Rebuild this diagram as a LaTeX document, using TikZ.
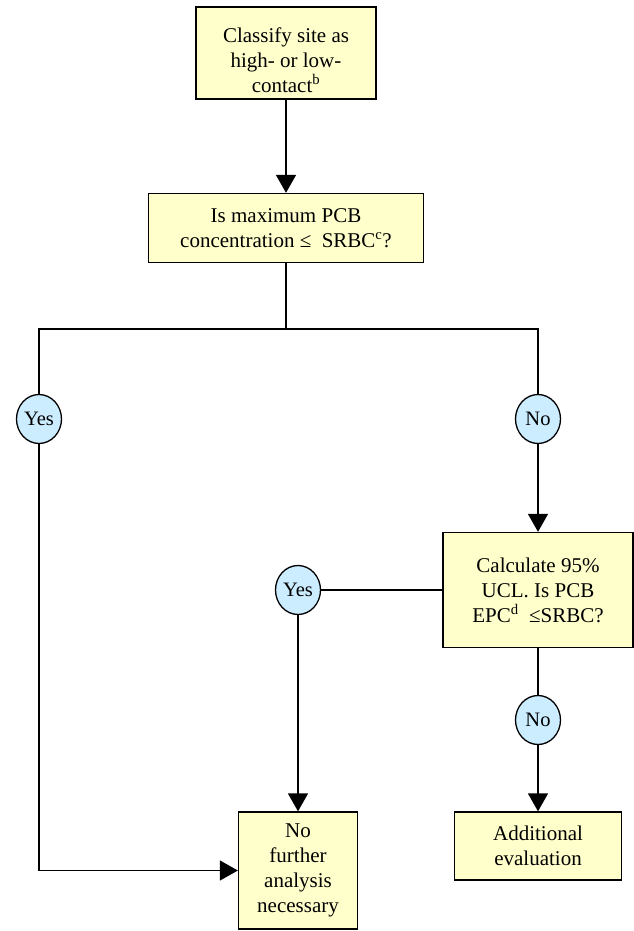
\documentclass[tikz,border=0pt]{standalone}
\usepackage{fontspec}
\setmainfont{Liberation Serif}
\usetikzlibrary{arrows.meta,shapes.geometric}
\definecolor{boxfill}{HTML}{FFFFCC}
\definecolor{ansfill}{HTML}{CCECFF}

\begin{document}
\begin{tikzpicture}[x=1pt,y=-1pt]
	\tikzstyle{every node}+=[inner sep=0pt,font=\fontsize{21}{25}\selectfont,align=center]
	\tikzstyle{step box}=[draw=black,line width=1.3pt,fill=boxfill,rectangle]
	\tikzstyle{answer}=[draw=black,line width=1.3pt,fill=ansfill,ellipse,minimum width=45pt,minimum height=49pt,font=\fontsize{20.5}{24}\selectfont]
	\tikzstyle{link}=[black,line width=1.3pt]
	\tikzstyle{arr}=[link,-{Triangle[width=20pt,length=18pt]}]
	\useasboundingbox (0,0) rectangle (634,931);
	\node[step box,minimum width=180pt,minimum height=92pt] (classify) at (286,53) {\rule{0pt}{29pt}Classify site as\\high- or low-\\contact\textsuperscript{b}};
	\node[step box,minimum width=275pt,minimum height=69pt] (maxpcb) at (286,228) {Is maximum PCB\\concentration ≤~~SRBC\textsuperscript{c}?};
	\coordinate (split) at (286,329);
	\node[answer] (yesA) at (39,419) {Yes};
	\node[answer] (noA) at (538,419) {No};
	\node[step box,minimum width=190pt,minimum height=115pt] (ucl) at (538,590) {Calculate 95\%\\UCL. Is PCB\\EPC\textsuperscript{d}~~≤SRBC?};
	\node[answer] (yesB) at (298,590) {Yes};
	\node[answer] (noB) at (538,720) {No};
	\node[step box,minimum width=119pt,minimum height=117pt] (noanalysis) at (298,870.5) {No\\further\\analysis\\necessary};
	\node[step box,minimum width=167pt,minimum height=68pt] (evaluation) at (538,846) {Additional\\evaluation};
	\draw[arr] (classify) -- (maxpcb);
	\draw[link] (maxpcb) -- (split);
	\draw[link] (split) -| (yesA);
	\draw[link] (split) -| (noA);
	\draw[arr] (noA) -- (ucl);
	\draw[link] (ucl) -- (yesB);
	\draw[arr] (yesB) -- (noanalysis);
	\draw[arr] (yesA) |- (noanalysis);
	\draw[link] (ucl) -- (noB);
	\draw[arr] (noB) -- (evaluation);
\end{tikzpicture}
\end{document}
